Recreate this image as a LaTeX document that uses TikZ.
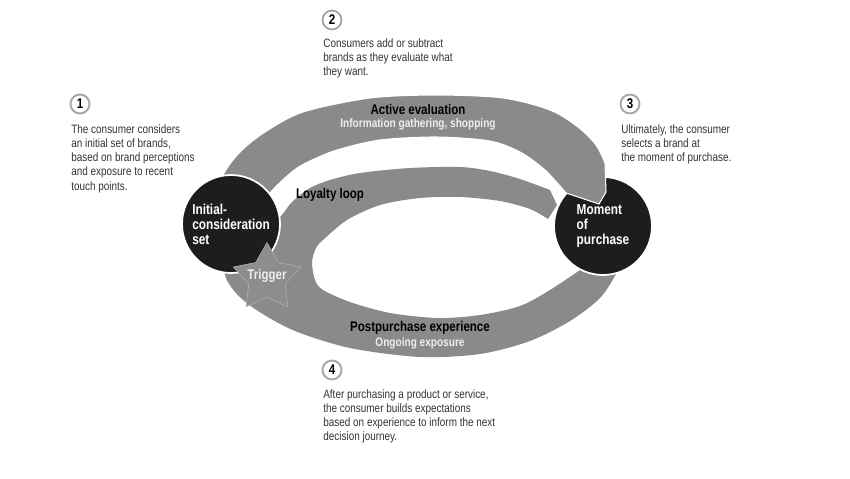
\documentclass[tikz,border=0pt]{standalone}
\usepackage{fontspec}
\setmainfont{Liberation Sans}[FakeStretch=0.82]
\usepackage{xcolor}
\usepackage{tikz}
\usetikzlibrary{shapes.geometric}
\definecolor{bandgray}{HTML}{8A8A8A}
\definecolor{stargray}{HTML}{8F8D8B}
\definecolor{hubblack}{HTML}{1D1D1D}
\definecolor{notegray}{HTML}{333333}
\definecolor{ringgray}{HTML}{A8A8A8}
\definecolor{paletext}{HTML}{EEEEEE}

\begin{document}
\begin{tikzpicture}[x=0.02cm,y=-0.02cm,font=\fontsize{6.9}{8.1}\selectfont]
        \tikzstyle{note}=[anchor=north west,align=left,inner sep=0pt,text=notegray]
        \tikzstyle{num}=[circle,draw=ringgray,line width=1.1pt,fill=white,minimum size=0.38cm,inner sep=0pt,font=\fontsize{8}{8}\selectfont\bfseries,text=black]
        \tikzstyle{hub}=[circle,fill=hubblack,draw=white,line width=1pt,minimum size=1.96cm,inner sep=0pt,align=left,text=white,font=\fontsize{8.2}{8.6}\selectfont\bfseries]
        \tikzstyle{band}=[fill=bandgray]
        \tikzstyle{head}=[inner sep=0pt,font=\fontsize{8}{8}\selectfont\bfseries,text=black]
        \tikzstyle{sub}=[inner sep=0pt,font=\fontsize{7}{7}\selectfont\bfseries,text=paletext]
        \tikzstyle{trigstar}=[star,star points=5,star point ratio=1.85,minimum size=1.42cm,inner sep=0pt,fill=stargray,draw=gray!60,line width=0.3pt]
        \useasboundingbox (0,0) rectangle (850,478);
        % postpurchase experience running into the loyalty loop
        \fill[band] plot[smooth] coordinates {(550,190) (520,179) (490,171) (460,167) (410,168) (360,173) (330,180) (310,188) (292,202) (280,217) (250,245) (225,270) (235,292) (258,311) (295,331) (350,348) (420,357) (480,354) (530,341) (570,321) (600,298) (617,272) (628,245)}
          -- (595,252)
          -- plot[smooth] coordinates {(583,268) (550,290) (520,306) (480,315) (438,318) (390,313) (350,302) (323,290) (315,280) (312,262) (316,248) (323,240) (347,220) (380,205) (420,198) (460,197) (500,201) (530,209) (548,219)}
          -- (557,205) -- cycle;
        \node[hub] (mop) at (603,226) {Moment\\of\\purchase};
        % active evaluation arc, tip laid over the purchase circle
        \filldraw[band,draw=white,line width=0.6pt] plot[smooth] coordinates {(214,205) (223,175) (240,152) (265,132) (303,112) (370,98) (437,95) (503,98) (550,110) (578,127) (596,145) (605,163)}
          -- (606,192) -- (599,204)
          -- plot[smooth] coordinates {(566,193) (545,170) (520,152) (490,141) (437,137) (380,140) (337,150) (310,161) (293,171) (270,193) (258,215)}
          -- cycle;
        \node[hub] (ics) at (231,224) {Initial-\\consideration\\set};
        \node[trigstar] (trig) at (267,278) {};
        \node[sub,font=\fontsize{8}{8}\selectfont\bfseries] (trigtxt) at (267,276) {Trigger};
        % labels on the bands
        \node[head] (acthd) at (418,109) {Active evaluation};
        \node[sub] (actsub) at (418,124) {Information gathering, shopping};
        \node[head] (loyhd) at (330,195) {Loyalty loop};
        \node[head] (posthd) at (420,328) {Postpurchase experience};
        \node[sub] (postsub) at (420,343) {Ongoing exposure};
        % numbered notes
        \node[num] (n1) at (80,104) {1};
        \node[note] (t1) at (71,124) {The consumer considers\\an initial set of brands,\\based on brand perceptions\\and exposure to recent\\touch points.};
        \node[num] (n2) at (332,20) {2};
        \node[note] (t2) at (323,38) {Consumers add or subtract\\brands as they evaluate what\\they want.};
        \node[num] (n3) at (630,104) {3};
        \node[note] (t3) at (621,124) {Ultimately, the consumer\\selects a brand at\\the moment of purchase.};
        \node[num] (n4) at (332,370) {4};
        \node[note] (t4) at (323,389) {After purchasing a product or service,\\the consumer builds expectations\\based on experience to inform the next\\decision journey.};
      \end{tikzpicture}
\end{document}
